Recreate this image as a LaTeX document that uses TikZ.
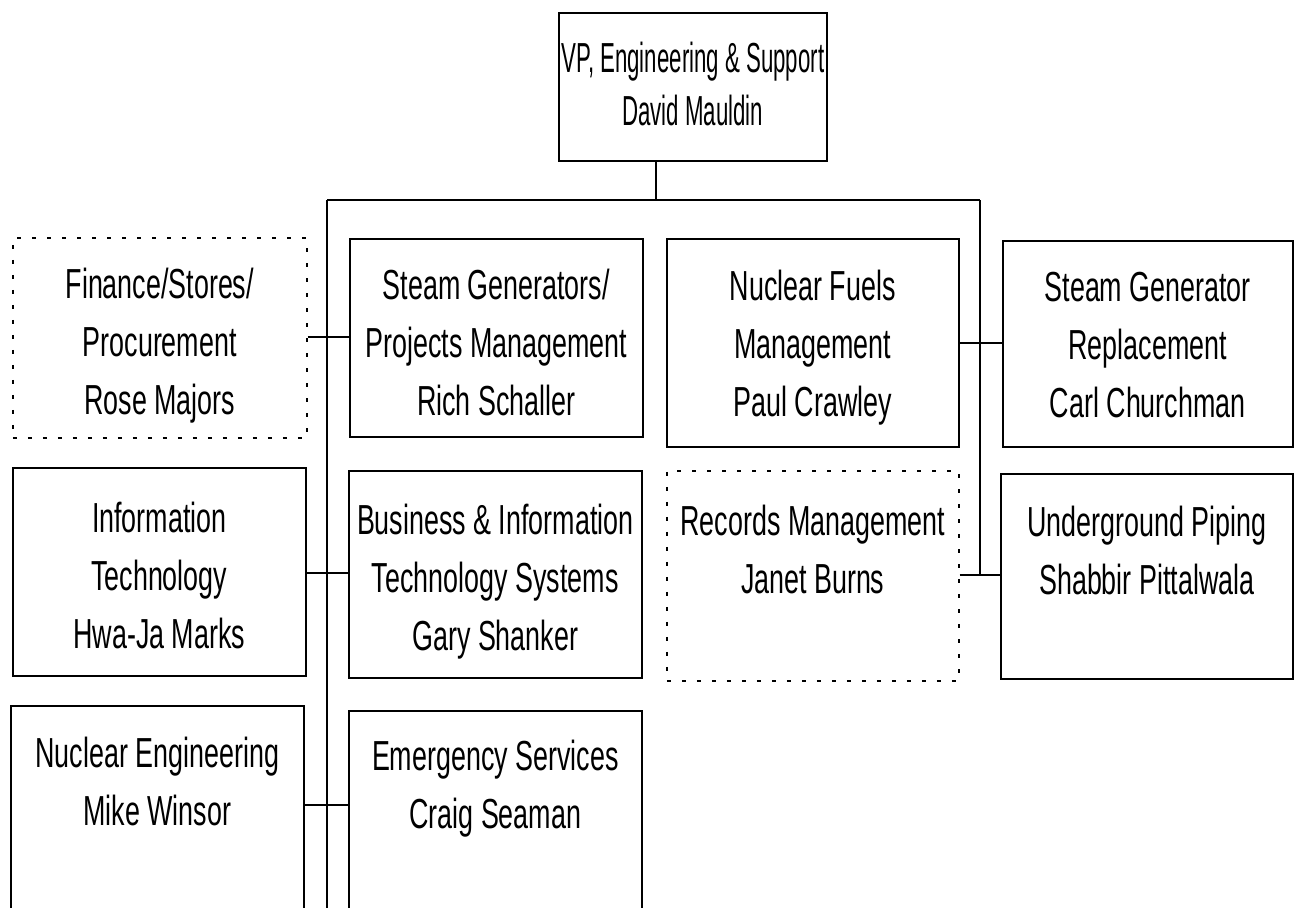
\documentclass[tikz,border=0pt]{standalone}
\usepackage{fontspec}
\setmainfont{Liberation Sans}[FakeStretch=0.64]
\newfontfamily\topfont{Liberation Sans}[FakeStretch=0.53]
\tikzset{
  box/.style={draw, line width=1.5pt, rectangle, anchor=north west, inner sep=0pt, minimum width=293pt},
  dotbox/.style={box, dash pattern=on 4pt off 11pt},
  txt/.style={anchor=north, align=center, inner sep=0pt, font=\fontsize{42}{58}\selectfont},
  toptxt/.style={anchor=north, align=center, inner sep=0pt, font={\topfont\fontsize{42}{53}\selectfont}},
  conn/.style={line width=2.4pt},
}
\begin{document}
\begin{tikzpicture}[x=1pt,y=-1pt]
\fill[white] (0,0) rectangle (1294,908);
\clip (0,0) rectangle (1294,908);
% boxes
\node[box, minimum width=268pt, minimum height=148pt] (top) at (558,12) {};
\node[dotbox, minimum width=294pt, minimum height=200pt] (fin) at (12,237) {};
\node[box, minimum height=198pt] (sg) at (349,238) {};
\node[box, minimum width=292pt, minimum height=208pt] (nf) at (666,238) {};
\node[box, minimum width=290pt, minimum height=206pt] (sgr) at (1002,240) {};
\node[box, minimum height=208pt] (it) at (12,467) {};
\node[box, minimum height=207pt] (bit) at (348,470) {};
\node[dotbox, minimum width=292pt, minimum height=210pt] (rm) at (666,470) {};
\node[box, minimum width=292pt, minimum height=205pt] (up) at (1000,473) {};
\node[box, minimum height=225pt] (ne) at (10,705) {};
\node[box, minimum height=220pt] (es) at (348,710) {};
% texts
\node[toptxt] (topT) at ([yshift=-30pt]top.north) {VP, Engineering \& Support\\David Mauldin};
\node[txt] (finT) at ([yshift=-31pt]fin.north) {Finance/Stores/\\Procurement\\Rose Majors};
\node[txt] (sgT) at ([yshift=-31pt]sg.north) {Steam Generators/\\Projects Management\\Rich Schaller};
\node[txt] (nfT) at ([yshift=-32pt]nf.north) {Nuclear Fuels\\Management\\Paul Crawley};
\node[txt] (sgrT) at ([yshift=-32pt]sgr.north) {Steam Generator\\Replacement\\Carl Churchman};
\node[txt] (itT) at ([yshift=-35pt]it.north) {Information\\Technology\\Hwa-Ja Marks};
\node[txt] (bitT) at ([yshift=-34pt]bit.north) {Business \& Information\\Technology Systems\\Gary Shanker};
\node[txt] (rmT) at ([yshift=-35pt]rm.north) {Records Management\\Janet Burns};
\node[txt] (upT) at ([yshift=-33pt]up.north) {Underground Piping\\Shabbir Pittalwala};
\node[txt] (neT) at ([yshift=-32pt]ne.north) {Nuclear Engineering\\Mike Winsor};
\node[txt] (esT) at ([yshift=-30pt]es.north) {Emergency Services\\Craig Seaman};
% connector points
\coordinate (j0) at (656,200);
\coordinate (jl) at (327,200);
\coordinate (jr) at (980,200);
\coordinate (lb) at (327,915);
\coordinate (c1) at (327,337);
\coordinate (c2) at (980,343);
\coordinate (c3) at (327,573);
\coordinate (c4) at (980,575);
\coordinate (c5) at (327,805);
% connectors
\draw[conn] (top.south -| j0) -- (j0);
\draw[conn] (jl) -- (jr);
\draw[conn] (jl) -- (lb);
\draw[conn] (jr) -- (c4);
\draw[conn] (fin.east |- c1) -- (sg.west |- c1);
\draw[conn] (nf.east |- c2) -- (sgr.west |- c2);
\draw[conn] (it.east |- c3) -- (bit.west |- c3);
\draw[conn] (rm.east |- c4) -- (up.west |- c4);
\draw[conn] (ne.east |- c5) -- (es.west |- c5);
\end{tikzpicture}
\end{document}
